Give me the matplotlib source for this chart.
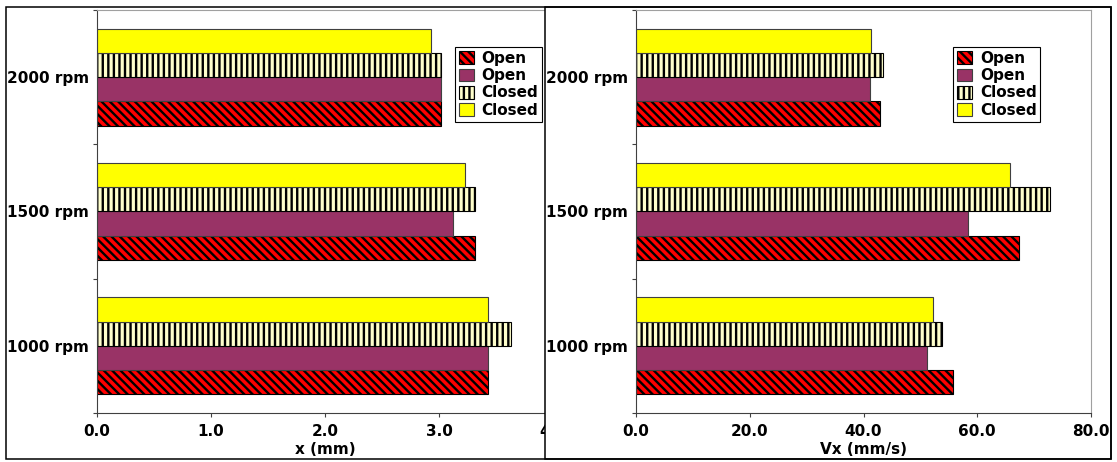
import matplotlib
matplotlib.use("Agg")
import matplotlib.pyplot as plt
from matplotlib.patches import Rectangle
import numpy as np

# Speeds (bottom to top) and the four series per speed
speeds = ["1000 rpm", "1500 rpm", "2000 rpm"]
series_labels = ["Open", "Open", "Closed", "Closed"]

# Displacement x (mm)
disp_open_a = [3.43, 3.32, 3.02]
disp_open_b = [3.43, 3.12, 3.02]
disp_closed_a = [3.63, 3.32, 3.02]
disp_closed_b = [3.43, 3.23, 2.93]

# Velocity Vx (mm/s)
vel_open_a = [55.7, 67.3, 42.9]
vel_open_b = [51.1, 58.3, 41.1]
vel_closed_a = [53.8, 72.8, 43.4]
vel_closed_b = [52.2, 65.7, 41.3]

plt.rcParams["hatch.linewidth"] = 1.7
plt.rcParams["font.weight"] = "bold"

W, H = 1117, 462
fig = plt.figure(figsize=(W / 100, H / 100), dpi=100)


def px_box(x0, y0, x1, y1):
    # pixel box (top-left origin) -> figure fraction [left, bottom, w, h]
    return [x0 / W, 1 - y1 / H, (x1 - x0) / W, (y1 - y0) / H]


styles = [
    dict(color="#ff0000", hatch="\\\\\\\\", edgecolor="black"),
    dict(color="#993366", edgecolor="#404040"),
    dict(color="#ffffcc", hatch="|||", edgecolor="black"),
    dict(color="#ffff00", edgecolor="#404040"),
]


def draw_panel(ax, data, xmax, xstep, xlabel, leg_x):
    y = np.arange(len(speeds))
    h = 0.18
    offsets = [-1.5 * h, -0.5 * h, 0.5 * h, 1.5 * h]
    for vals, off, lab, st in zip(data, offsets, series_labels, styles):
        ax.barh(y + off, vals, height=h, label=lab, linewidth=0.8,
                facecolor=st["color"], edgecolor=st["edgecolor"],
                hatch=st.get("hatch"))
    ax.set_ylim(-0.5, len(speeds) - 0.5)
    ax.set_xlim(0, xmax)
    ticks = np.arange(0, xmax + 0.001, xstep)
    ax.set_xticks(ticks)
    ax.set_xticklabels([f"{v:.1f}" for v in ticks],
                       fontsize=11, fontweight="bold")
    ax.set_yticks(np.arange(-0.5, len(speeds), 1.0))
    ax.set_yticklabels([])
    ax.set_yticks(y, minor=True)
    ax.set_yticklabels(speeds, minor=True, fontsize=11, fontweight="bold")
    ax.tick_params(axis="y", which="minor", length=0, pad=6)
    ax.tick_params(axis="y", which="major", length=3, color="#404040")
    ax.tick_params(axis="x", length=3, color="#404040", pad=5)
    ax.set_xlabel(xlabel, fontsize=11, fontweight="bold", labelpad=2)
    for s in ("top", "right"):
        ax.spines[s].set_color("#a0a0a0")
    for s in ("left", "bottom"):
        ax.spines[s].set_color("#404040")
    leg = ax.legend(loc="upper left", bbox_to_anchor=(leg_x, 0.908),
                    borderaxespad=0, fancybox=False, edgecolor="black",
                    framealpha=1, prop=dict(size=11, weight="bold"),
                    handlelength=1.0, handleheight=0.9, handletextpad=0.5,
                    labelspacing=0.15, borderpad=0.25)
    leg.get_frame().set_linewidth(0.8)


ax1 = fig.add_axes(px_box(97, 10, 553, 413), zorder=0)
draw_panel(ax1, [disp_open_a, disp_open_b, disp_closed_a, disp_closed_b],
           4.0, 1.0, "x (mm)", 0.785)

# right-hand panel frame sits above the left axes and hides its overflow
fig.patches.append(Rectangle((545 / W, 1 - 459 / H), (1111 - 545) / W,
                             (459 - 7) / H, transform=fig.transFigure,
                             facecolor="white", edgecolor="black",
                             linewidth=1.1, zorder=0.5))
fig.patches.append(Rectangle((6 / W, 1 - 459 / H), (1111 - 6) / W,
                             (459 - 7) / H, transform=fig.transFigure,
                             facecolor="none", edgecolor="black",
                             linewidth=1.1, zorder=3))

ax2 = fig.add_axes(px_box(636, 10, 1091, 413), zorder=1)
draw_panel(ax2, [vel_open_a, vel_open_b, vel_closed_a, vel_closed_b],
           80.0, 20.0, "Vx (mm/s)", 0.697)

fig.savefig("out.png", dpi=100)
